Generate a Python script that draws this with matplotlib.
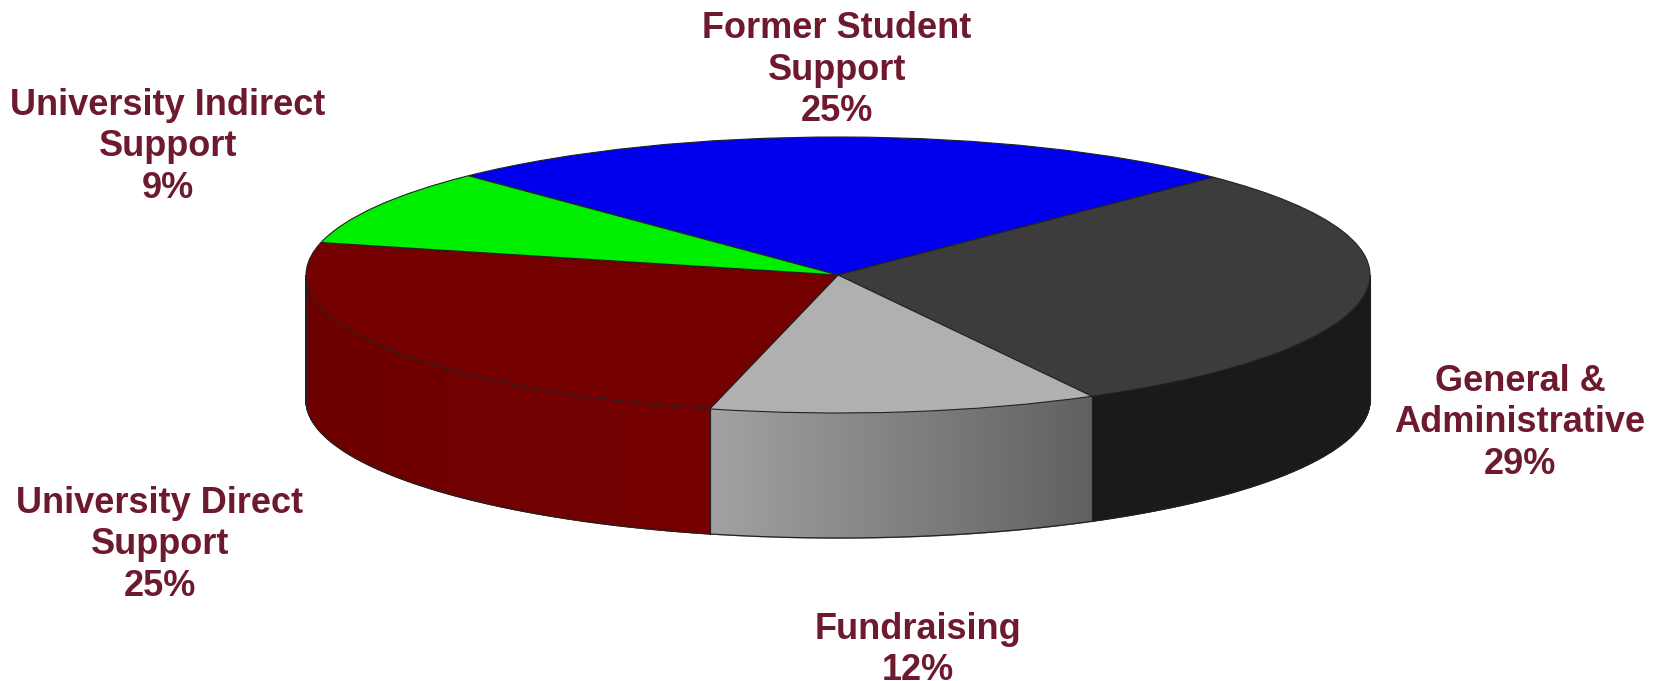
import numpy as np
import matplotlib
matplotlib.use('Agg')
import matplotlib.pyplot as plt
from matplotlib.transforms import Affine2D

labels = ['Former Student\nSupport\n25%', 'General &\nAdministrative\n29%', 'Fundraising\n12%',
          'University Direct\nSupport\n25%', 'University Indirect\nSupport\n9%']
values = [24.7, 29.6, 11.8, 24.9, 9.0]
top_colors = ['#0000ee', '#3c3c3c', '#b0b0b0', '#750000', '#00ee00']
side_left = ['#0000ee', '#1a1a1a', '#a2a2a2', '#6e0000', '#00ee00']
side_right = ['#0000ee', '#1a1a1a', '#606060', '#750000', '#00ee00']
label_xy = [(837, 70), (1520, 423), (918, 650), (160, 545), (168, 147)]
text_color = '#6e1a2e'

W, H = 1663, 681
CX, CY, RX, RY, DEPTH = 838, 275, 532, 138, 125
START = 134

fig = plt.figure(figsize=(W/100, H/100), dpi=100, facecolor='white')
ax = fig.add_axes([0, 0, 1, 1])

edges = START - np.cumsum([0] + values) * 3.6


def rim(a):
    r = np.radians(a)
    return CX + RX*np.cos(r), CY - RY*np.sin(r)


# top
wedges, _ = ax.pie(values, colors=top_colors, startangle=START, counterclock=False, radius=1,
                   frame=False, wedgeprops=dict(edgecolor='#222222', linewidth=0.8))
ax.set_aspect('auto')
ax.set_xlim(0, W)
ax.set_ylim(H, 0)
ax.axis('off')
tr = Affine2D().scale(RX, -RY).translate(CX, CY) + ax.transData
for w in wedges:
    w.set_transform(tr)
    w.set_zorder(5)

# side walls
for i, v in enumerate(values):
    a1, a0 = edges[i], edges[i+1]
    lo, hi = max(a0, -180), min(a1, 0)
    if lo >= hi:
        continue
    angs = np.linspace(hi, lo, 160)
    c0 = np.array(matplotlib.colors.to_rgb(side_right[i]))
    c1 = np.array(matplotlib.colors.to_rgb(side_left[i]))
    xl, xr = rim(lo)[0], rim(hi)[0]
    for j in range(len(angs)-1):
        x0, y0 = rim(angs[j])
        x1, y1 = rim(angs[j+1])
        t = (x0 - xl) / max(xr - xl, 1)
        col = c1 + (c0-c1)*t
        ax.fill([x0, x1, x1, x0], [y0, y1, y1+DEPTH, y0+DEPTH], color=col, lw=1.0, zorder=2)
    xs, ys = zip(*[rim(a) for a in angs])
    xs = np.array(xs)
    ys = np.array(ys)
    ax.plot(xs, ys+DEPTH, color='#222222', lw=0.9, zorder=3)
    ax.plot([xs[0], xs[0]], [ys[0], ys[0]+DEPTH], color='#222222', lw=0.8, zorder=3)
    ax.plot([xs[-1], xs[-1]], [ys[-1], ys[-1]+DEPTH], color='#222222', lw=0.8, zorder=3)

for s, (x, y) in zip(labels, label_xy):
    ax.text(x, y, s, ha='center', va='center', fontsize=26, fontweight='bold',
            color=text_color, family='Liberation Sans', linespacing=1.24, zorder=6)

fig.savefig('out.png', dpi=100, facecolor='white')
